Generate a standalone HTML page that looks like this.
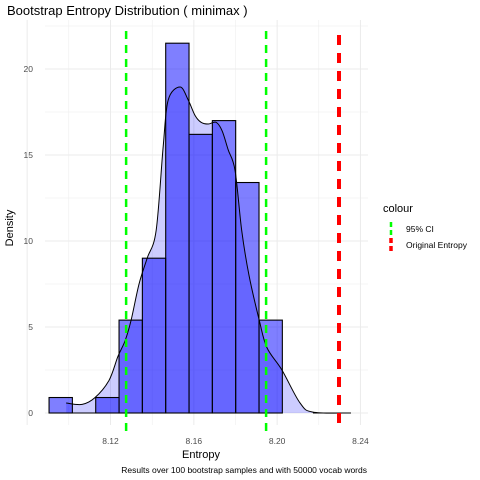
<!DOCTYPE html>
<html><head><meta charset="utf-8"><style>
body{margin:0;background:#fff;}
svg{display:block;font-family:"Liberation Sans",sans-serif;}
</style></head><body>
<svg id="chart" width="480" height="480" viewBox="0 0 480 480">
<rect width="480" height="480" fill="#fff"/>
<g id="grid"></g>
<g id="dens"></g>
<g id="bars"></g>
<g id="curve"></g>
<g id="vlines"></g>
<g id="axes"></g>
<text x="7" y="15" font-size="13" fill="#000">Bootstrap Entropy Distribution ( minimax )</text>
<text x="201" y="458" font-size="11" text-anchor="middle">Entropy</text>
<text transform="translate(13,228) rotate(-90)" font-size="11" text-anchor="middle">Density</text>
<text x="367" y="473" font-size="8.5" text-anchor="end">Results over 100 bootstrap samples and with 50000 vocab words</text>
<g>
<text x="383" y="212" font-size="11">colour</text>
<line x1="391" y1="222" x2="391" y2="237" stroke="#00ff00" stroke-width="2.5" stroke-dasharray="5 3"/>
<text x="406" y="232" font-size="8.5">95% CI</text>
<line x1="391" y1="238" x2="391" y2="253" stroke="#ff0000" stroke-width="3.5" stroke-dasharray="5 3"/>
<text x="406" y="248" font-size="8.5">Original Entropy</text>
</g>
</svg>
<script>
const binEdges=[8.0905,8.1017,8.1129,8.1241,8.1353,8.1465,8.1577,8.1689,8.1801,8.1913,8.2025];
const binHeights=[0.9,0,0.9,5.4,9.0,21.5,16.2,17.0,13.4,5.4];
const densX=[8.0987,8.1064,8.1126,8.1193,8.1236,8.127,8.1299,8.1337,8.1376,8.1419,8.1453,8.1477,8.1534,8.1573,8.1606,8.1635,8.1669,8.1707,8.1736,8.1765,8.1798,8.1830,8.1865,8.1914,8.1951,8.2023,8.2109,8.2172,8.2354];
const densY=[0.58,0.5,0.9,1.9,3.3,4.2,5.4,7.5,9.0,10.6,15.5,18.2,18.95,18.2,17.3,16.9,16.8,16.9,16.4,15.3,14.1,10.6,8.0,5.4,3.8,2.5,0.6,0.05,0];
const ciLines=[8.1275,8.1947];
const originalEntropy=[8.2297];
const xTicks=[8.12,8.16,8.20,8.24];
const xTickLabels=["8.12","8.16","8.20","8.24"];
const yTicks=[0,5,10,15,20];
const NS="http://www.w3.org/2000/svg";
const X=v=>110.5+(v-8.12)*2083;
const Y=d=>413-d*17.2;
function mk(t,a,p){const e=document.createElementNS(NS,t);for(const k in a)e.setAttribute(k,a[k]);p.appendChild(e);return e;}
const grid=document.getElementById('grid');
const L=45,R=368,T=20,B=425;
for(let v=8.08;v<=8.2401;v+=0.02){const maj=Math.abs(Math.round(v*100)%4)===0;
 const g=mk('line',{x1:X(v),x2:X(v),y1:T,y2:B,stroke:'#ebebeb','stroke-width':maj?1:0.5},grid);
 }
for(let d=0;d<=22.5;d+=2.5){const g=mk('line',{x1:L,x2:R,y1:Y(d),y2:Y(d),stroke:'#ebebeb','stroke-width':d%5===0?1:0.5},grid);
 }
// smooth path (Catmull-Rom)
const P=densX.map((x,i)=>[X(x),Y(densY[i])]);
let d='M'+P[0][0]+','+P[0][1];
for(let i=0;i<P.length-1;i++){const p0=P[Math.max(i-1,0)],p1=P[i],p2=P[i+1],p3=P[Math.min(i+2,P.length-1)];
 const c1=[p1[0]+(p2[0]-p0[0])/6,p1[1]+(p2[1]-p0[1])/6],c2=[p2[0]-(p3[0]-p1[0])/6,p2[1]-(p3[1]-p1[1])/6];
 d+=' C'+c1[0]+','+c1[1]+' '+c2[0]+','+c2[1]+' '+p2[0]+','+p2[1];}
const area=mk('path',{d:'M'+P[0][0]+','+Y(0)+' L'+d.slice(1)+' L'+P[P.length-1][0]+','+Y(0)+' Z',fill:'rgba(0,0,255,0.2)'},document.getElementById('dens'));

// bars
const bars=document.getElementById('bars');
binHeights.forEach((h,i)=>{if(h<=0)return;const x0=X(binEdges[i]),x1=X(binEdges[i+1]);
 const r=mk('rect',{x:x0,y:Y(h),width:x1-x0,height:Y(0)-Y(h),fill:'rgba(0,0,255,0.5)',stroke:'#000','stroke-width':1.1},bars);
 });
const base=mk('line',{x1:X(binEdges[0]),x2:X(binEdges[binEdges.length-1]),y1:Y(0),y2:Y(0),stroke:'#000','stroke-width':1},bars);

// curve
const c=mk('path',{d:d,fill:'none',stroke:'#000','stroke-width':1},document.getElementById('curve'));

const cb=mk('line',{x1:X(densX[densX.length-2]),x2:X(densX[densX.length-1]),y1:Y(0),y2:Y(0),stroke:'#000','stroke-width':1},document.getElementById('curve'));

// vlines
const vl=document.getElementById('vlines');
ciLines.forEach(v=>{const l=mk('line',{x1:X(v),x2:X(v),y1:31,y2:432,stroke:'#00ff00','stroke-width':2.5,'stroke-dasharray':'8 6'},vl);
 });
originalEntropy.forEach(v=>{const l=mk('line',{x1:X(v),x2:X(v),y1:35,y2:428,stroke:'#ff0000','stroke-width':4,'stroke-dasharray':'10 8'},vl);
 });
// axes labels
const ax=document.getElementById('axes');
xTicks.forEach((v,i)=>{const t=mk('text',{x:X(v),y:444,'font-size':8.5,'text-anchor':'middle',fill:'#4d4d4d'},ax);t.textContent=xTickLabels[i];
 });
yTicks.forEach(d=>{const t=mk('text',{x:33,y:Y(d)+3,'font-size':8.5,'text-anchor':'end',fill:'#4d4d4d'},ax);t.textContent=d;
 });
</script>
</body></html>
